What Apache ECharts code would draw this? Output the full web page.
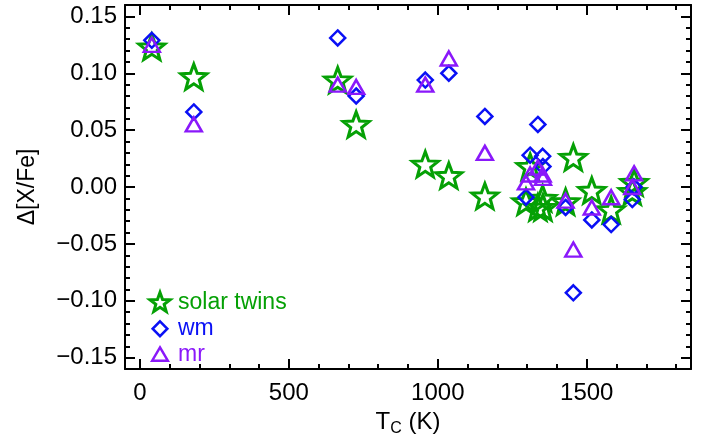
<!DOCTYPE html>
<html><head><meta charset="utf-8">
<script src="https://cdn.jsdelivr.net/npm/echarts@6/dist/echarts.min.js"></script>
<style>html,body{margin:0;padding:0;background:#fff}#c{width:711px;height:443px}</style>
</head><body><div id="c"></div>
<script>
// ---- data ----
const elements = ['C','O','S','Zn','Na','Cu','Mn','Cr','Si','Mg','Co','Ni','V','Ba','Ca','Ti','Al','Sc'];
const tc = [40, 181, 664, 726, 958, 1037, 1158, 1296, 1310, 1336, 1352, 1353, 1429, 1455, 1517, 1582, 1653, 1659];
const solarTwins = [0.123, 0.097, 0.094, 0.055, 0.020, 0.010, -0.008, -0.013, 0.018, -0.018, -0.010, -0.018, -0.013, 0.026, -0.003, -0.020, -0.004, 0.004];
const wm = [0.129, 0.066, 0.131, 0.080, 0.094, 0.100, 0.062, -0.009, 0.028, 0.055, 0.027, 0.018, -0.018, -0.093, -0.029, -0.033, -0.011, 0.000];
const mr = [0.125, 0.055, 0.090, 0.088, 0.090, 0.113, 0.030, 0.004, 0.011, 0.017, 0.011, 0.008, -0.012, -0.055, -0.018, -0.009, 0.000, 0.012];
const seriesNames = ['solar twins', 'wm', 'mr'];
const xMajor = [0, 500, 1000, 1500];
const xMinor = [0, 100, 200, 300, 400, 500, 600, 700, 800, 900, 1000, 1100, 1200, 1300, 1400, 1500, 1600, 1700, 1800];
const yMajor = [-0.15, -0.10, -0.05, 0, 0.05, 0.10, 0.15];
const yMinor = [-0.16, -0.15, -0.14, -0.13, -0.12, -0.11, -0.10, -0.09, -0.08, -0.07, -0.06, -0.05, -0.04, -0.03, -0.02, -0.01, 0,
                0.01, 0.02, 0.03, 0.04, 0.05, 0.06, 0.07, 0.08, 0.09, 0.10, 0.11, 0.12, 0.13, 0.14, 0.15, 0.16];

// ---- style ----
const FONT = '"Liberation Sans", Arial, Helvetica, sans-serif';
const GREEN = '#05a005', BLUE = '#0a10f5', PURPLE = '#8a18fa';

function starPath(R, r) {
  let d = '';
  for (let i = 0; i < 10; i++) {
    const a = (-90 + 36 * i) * Math.PI / 180;
    const rad = i % 2 === 0 ? R : r;
    const x = (50 + rad * Math.cos(a)).toFixed(2), y = (50 + rad * Math.sin(a)).toFixed(2);
    d += (i === 0 ? 'M' : 'L') + x + ' ' + y + ' ';
  }
  return 'path://' + d + 'Z';
}
const STAR = starPath(50, 21);
const LEG_STAR = 'path://M0 0 M100 100 ' + starPath(46, 19).slice(7);
const LEG_DIAMOND = 'path://M0 0 M100 100 M50 18 L82 50 L50 82 L18 50 Z';
const LEG_TRIANGLE = 'path://M0 0 M100 100 M50 20 L84 78 L16 78 Z';

function xAxisDef(pos, ticks, len, labels) {
  const a = {
    type: 'value', min: -50, max: 1850, position: pos,
    axisLine: { show: len > 6, onZero: false, lineStyle: { color: '#000', width: 2 } },
    splitLine: { show: false },
    axisTick: { inside: true, length: len, customValues: ticks, lineStyle: { color: '#000', width: 2 } },
    axisLabel: { show: !!labels }
  };
  if (labels) {
    a.axisLabel = { show: true, customValues: ticks, fontSize: 24, fontFamily: FONT, color: '#000', margin: 12,
      formatter: v => String(Math.round(v)) };
    a.name = '{a|T}{b|C}{a| (K)}';
    a.nameLocation = 'middle';
    a.nameGap = 36;
    a.nameTextStyle = { fontFamily: FONT, color: '#000', rich: {
      a: { fontSize: 24, fontFamily: FONT, color: '#000' },
      b: { fontSize: 16, fontFamily: FONT, color: '#000', padding: [13, 0, 0, 0] }
    } };
  }
  return a;
}
function yAxisDef(pos, ticks, len, labels) {
  const a = {
    type: 'value', min: -0.16, max: 0.16, position: pos,
    axisLine: { show: len > 6, onZero: false, lineStyle: { color: '#000', width: 2 } },
    splitLine: { show: false },
    axisTick: { inside: true, length: len, customValues: ticks, lineStyle: { color: '#000', width: 2 } },
    axisLabel: { show: !!labels }
  };
  if (labels) {
    a.axisLabel = { show: true, customValues: ticks, fontSize: 24, fontFamily: FONT, color: '#000', margin: 8,
      formatter: v => (v < -1e-9 ? '\u2212' : '') + Math.abs(v).toFixed(2) };
    a.name = '\u0394[X/Fe]';
    a.nameLocation = 'middle';
    a.nameGap = 86;
    a.nameTextStyle = { fontSize: 23, fontFamily: FONT, color: '#000' };
  }
  return a;
}

const chart = echarts.init(document.getElementById('c'), null, { renderer: 'canvas' });
chart.setOption({
  animation: false,
  backgroundColor: '#fff',
  grid: { left: 125, right: 20, top: 5, bottom: 74, containLabel: false },
  xAxis: [
    xAxisDef('bottom', xMajor, 10, true),
    xAxisDef('bottom', xMinor, 5, false),
    xAxisDef('top', xMajor, 10, false),
    xAxisDef('top', xMinor, 5, false)
  ],
  yAxis: [
    yAxisDef('left', yMajor, 10, true),
    yAxisDef('left', yMinor, 5, false),
    yAxisDef('right', yMajor, 10, false),
    yAxisDef('right', yMinor, 5, false)
  ],
  legend: {
    orient: 'vertical', left: 142, top: 285, padding: 5, itemWidth: 26, itemHeight: 23, itemGap: 0,
    textStyle: { fontSize: 23, lineHeight: 23, fontFamily: FONT },
    data: [
      { name: seriesNames[0], icon: LEG_STAR, textStyle: { color: GREEN }, itemStyle: { borderWidth: 3, opacity: 1 } },
      { name: seriesNames[1], icon: LEG_DIAMOND, textStyle: { color: BLUE }, itemStyle: { borderWidth: 2.5, opacity: 1 } },
      { name: seriesNames[2], icon: LEG_TRIANGLE, textStyle: { color: PURPLE }, itemStyle: { borderWidth: 2.5, opacity: 1 } }
    ]
  },
  series: [
    { name: seriesNames[0], type: 'scatter', symbol: STAR, symbolSize: [26, 25],
      itemStyle: { color: 'transparent', borderColor: GREEN, borderWidth: 3, opacity: 1 },
      data: tc.map((x, i) => [x, solarTwins[i]]) },
    { name: seriesNames[1], type: 'scatter', symbol: 'diamond', symbolSize: 15,
      itemStyle: { color: 'transparent', borderColor: BLUE, borderWidth: 2.5, opacity: 1 },
      data: tc.map((x, i) => [x, wm[i]]) },
    { name: seriesNames[2], type: 'scatter', symbol: 'triangle', symbolSize: [16, 14],
      itemStyle: { color: 'transparent', borderColor: PURPLE, borderWidth: 2.5, opacity: 1 },
      data: tc.map((x, i) => [x, mr[i]]) }
  ]
});
</script></body></html>
